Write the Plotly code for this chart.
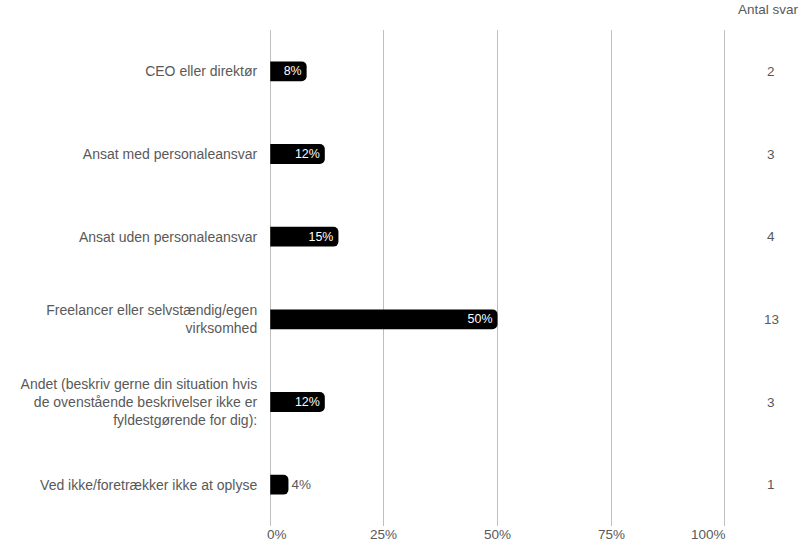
import plotly.graph_objects as go

categories = [
    "CEO eller direktør",
    "Ansat med personaleansvar",
    "Ansat uden personaleansvar",
    "Freelancer eller selvstændig/egen<br>virksomhed",
    "Andet (beskriv gerne din situation hvis<br>de ovenstående beskrivelser ikke er<br>fyldestgørende for dig):",
    "Ved ikke/foretrækker ikke at oplyse",
]
shares = [0.08, 0.12, 0.15, 0.50, 0.12, 0.04]
counts = [2, 3, 4, 13, 3, 1]
tick_vals = [0, 0.25, 0.5, 0.75, 1.0]
tick_text = ["0%", "25%", "50%", "75%", "100%"]

FONT = "Liberation Sans, Arial, sans-serif"
GREY = "#595959"
SIZE = 14
PAD = 0.005  # small range padding so the 0% / 100% grid lines stay visible

# Short bars get their label outside, the rest inside at the bar end
positions = ["outside" if v < 0.06 else "inside" for v in shares]

fig = go.Figure(
    go.Bar(
        x=shares,
        y=categories,
        orientation="h",
        marker=dict(color="black", line=dict(width=0)),
        text=[f"{round(v * 100)}%" for v in shares],
        textposition=positions,
        insidetextanchor="end",
        constraintext="none",
        textangle=0,
        insidetextfont=dict(color="white", size=SIZE - 0.5, family=FONT),
        outsidetextfont=dict(color=GREY, size=SIZE - 0.5, family=FONT),
        cliponaxis=False,
        hoverinfo="skip",
    )
)

# x tick labels: first one left-aligned, last one right-aligned on its grid line
last = len(tick_vals) - 1
for i, (v, t) in enumerate(zip(tick_vals, tick_text)):
    anchor = "left" if i == 0 else ("right" if i == last else "center")
    shift = -5 if i == 0 else (3 if i == last else 0)
    fig.add_annotation(
        x=v, y=0, xref="x", yref="paper", yshift=-18, xshift=shift,
        text=t, showarrow=False, xanchor=anchor, yanchor="bottom",
        font=dict(size=SIZE - 0.5, color=GREY, family=FONT),
    )

# Response counts column on the right
for cat, n in zip(categories, counts):
    fig.add_annotation(
        x=1.096, y=cat, xref="paper", yref="y",
        text=str(n), showarrow=False,
        font=dict(size=SIZE - 0.5, color=GREY, family=FONT),
        xanchor="center",
    )
fig.add_annotation(
    x=1.091, y=1, xref="paper", yref="paper", yshift=11,
    text="Antal svar", showarrow=False,
    font=dict(size=SIZE - 0.5, color=GREY, family=FONT),
    xanchor="center", yanchor="bottom",
)

fig.update_layout(
    width=806,
    height=544,
    margin=dict(l=268, r=79, t=30, b=18, autoexpand=False),
    paper_bgcolor="white",
    plot_bgcolor="white",
    bargap=0.76,
    barcornerradius=5,
    showlegend=False,
    font=dict(family=FONT, size=SIZE, color=GREY),
    xaxis=dict(
        range=[-PAD, 1 + PAD],
        tickvals=tick_vals,
        showticklabels=False,
        showgrid=True,
        gridcolor="#bfbfbf",
        gridwidth=1,
        zeroline=False,
        showline=False,
        automargin=False,
        fixedrange=True,
    ),
    yaxis=dict(
        autorange="reversed",
        showgrid=False,
        zeroline=False,
        showline=False,
        ticks="outside",
        ticklen=7,
        tickcolor="rgba(0,0,0,0)",
        tickfont=dict(size=SIZE, color=GREY, family=FONT),
        automargin=False,
        fixedrange=True,
    ),
)

fig.write_html("out.html")
